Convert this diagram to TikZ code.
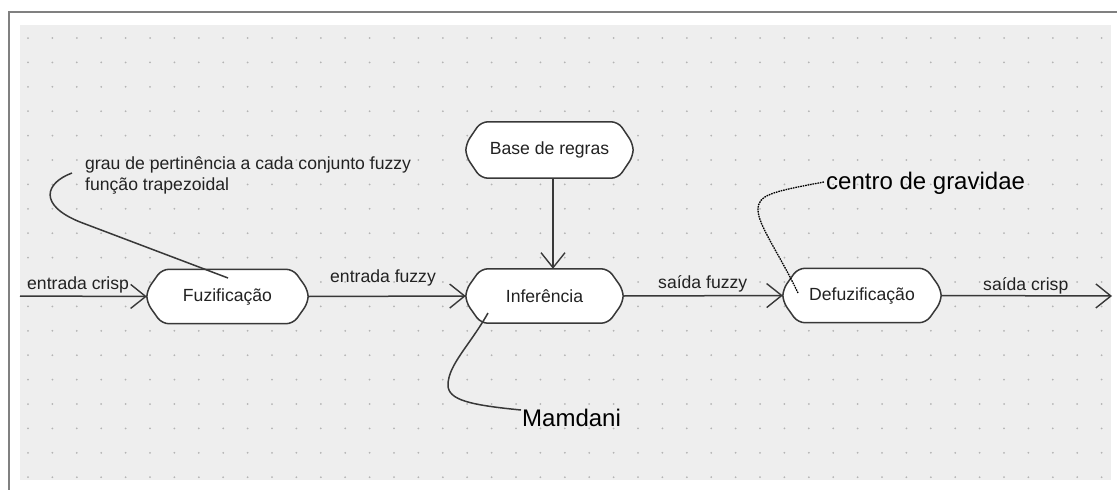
\documentclass[tikz,border=0pt]{standalone}
\usepackage{fontspec}
\setmainfont{Liberation Sans}
\usetikzlibrary{arrows.meta,calc}
\definecolor{frame}{HTML}{808080}
\definecolor{canvas}{HTML}{EEEEEE}
\definecolor{griddot}{HTML}{B4B4B4}
\definecolor{ink}{HTML}{383838}
\definecolor{txt}{HTML}{222222}
\pgfdeclarelayer{paper}
\pgfdeclarelayer{shapes}
\pgfsetlayers{paper,shapes,main}

% outline of an activity box: flat top and bottom, chamfered sides
\newcommand\actoutline[1]{%
  \path[actborder]
    ($(#1.north west)+(15,0)$) -- ($(#1.north east)+(-15,0)$)
    -- ($(#1.east)+(0,-6)$) -- ($(#1.east)+(0,6)$)
    -- ($(#1.south east)+(-15,0)$) -- ($(#1.south west)+(15,0)$)
    -- ($(#1.west)+(0,6)$) -- ($(#1.west)+(0,-6)$) -- cycle;}

\begin{document}
\begin{tikzpicture}[x=1pt,y=-1pt,
  lbl/.style={font=\fontsize{17.6}{21}\selectfont, text=txt, inner sep=0pt},
  biglbl/.style={font=\fontsize{24}{28}\selectfont, text=black, inner sep=0pt},
  actbox/.style={font=\fontsize{17.6}{21}\selectfont, text=txt, minimum height=54pt, inner sep=0pt},
  actborder/.style={draw=ink, line width=1.5pt, fill=white, rounded corners=7pt},
  flow/.style={draw=ink, line width=1.5pt,
    -{Straight Barb[length=15pt,width=24pt,line width=1.4pt]}},
  note/.style={draw=ink, line width=1.5pt},
  notedot/.style={draw=black, line width=1.3pt, dash pattern=on 1.6pt off 0.9pt}
]
\useasboundingbox (0,0) rectangle (1117,490);

% sheet, dotted grid and frame
\begin{pgfonlayer}{paper}
  \fill[white] (0,0) rectangle (1117,490);
  \fill[canvas] (20,25) rectangle (1111,480);
  \foreach \i in {0,...,44}
    \foreach \j in {0,...,18}
      \fill[griddot] (28+24.4*\i, 38+24.4*\j) circle (1pt);
  \draw[frame, line width=2.5pt] (9,490) -- (9,12) -- (1117,12);
\end{pgfonlayer}

% activity boxes
\node[actbox, minimum width=161pt] (fuz)   at (227.5,296.5) {Fuzificação};
\node[actbox, minimum width=157pt] (inf)   at (544.5,296)   {Inferência};
\node[actbox, minimum width=167pt, minimum height=56pt] (base) at (549.5,150) {Base de regras};
\node[actbox, minimum width=158pt] (defuz) at (862,295.5)   {Defuzificação};

\begin{pgfonlayer}{shapes}
  \actoutline{fuz}
  \actoutline{inf}
  \actoutline{base}
  \actoutline{defuz}
\end{pgfonlayer}

% main flow
\coordinate (src) at (20,296);
\coordinate (dst) at (1112,296);
\draw[flow] (src) -- (fuz.west);
\draw[flow] (fuz.east) -- (inf.west);
\draw[flow] (inf.east) -- (defuz.west);
\draw[flow] (defuz.east) -- (dst);
\draw[flow] ([xshift=3.5pt]base.south) -- ([xshift=3.5pt]base.south |- inf.north);

% flow labels
\node[lbl, anchor=base west] (lecrisp) at (27,289)  {entrada crisp};
\node[lbl, anchor=base west] (lefuzzy) at (330,282) {entrada fuzzy};
\node[lbl, anchor=base west] (lsfuzzy) at (658,288) {saída fuzzy};
\node[lbl, anchor=base west] (lscrisp) at (983,290) {saída crisp};

% notes
\node[lbl, anchor=base west] (ngrau) at (85,169) {grau de pertinência a cada conjunto fuzzy};
\node[lbl, anchor=base west] (ntrap) at (85,190) {função trapezoidal};
\node[biglbl, anchor=base west] (ncg)  at (826,189) {centro de gravidae};
\node[biglbl, anchor=base west] (nmam) at (522,426) {Mamdani};

\coordinate (gA) at (72,173);
\coordinate (gB) at (228,278);
\draw[note] (gA) .. controls (45,183) and (38,205) .. (80,222) -- (gB);

\coordinate (mA) at (488,313);
\coordinate (mB) at (521,410);
\draw[note] (mA) .. controls (470,345) and (448,365) .. (448,385)
  .. controls (448,400) and (470,405) .. (mB);

\coordinate (cA) at (798,293);
\coordinate (cB) at (824,182);
\draw[notedot] (cA) .. controls (780,255) and (758,225) .. (758,210)
  .. controls (758,195) and (770,192) .. (cB);
\end{tikzpicture}
\end{document}
